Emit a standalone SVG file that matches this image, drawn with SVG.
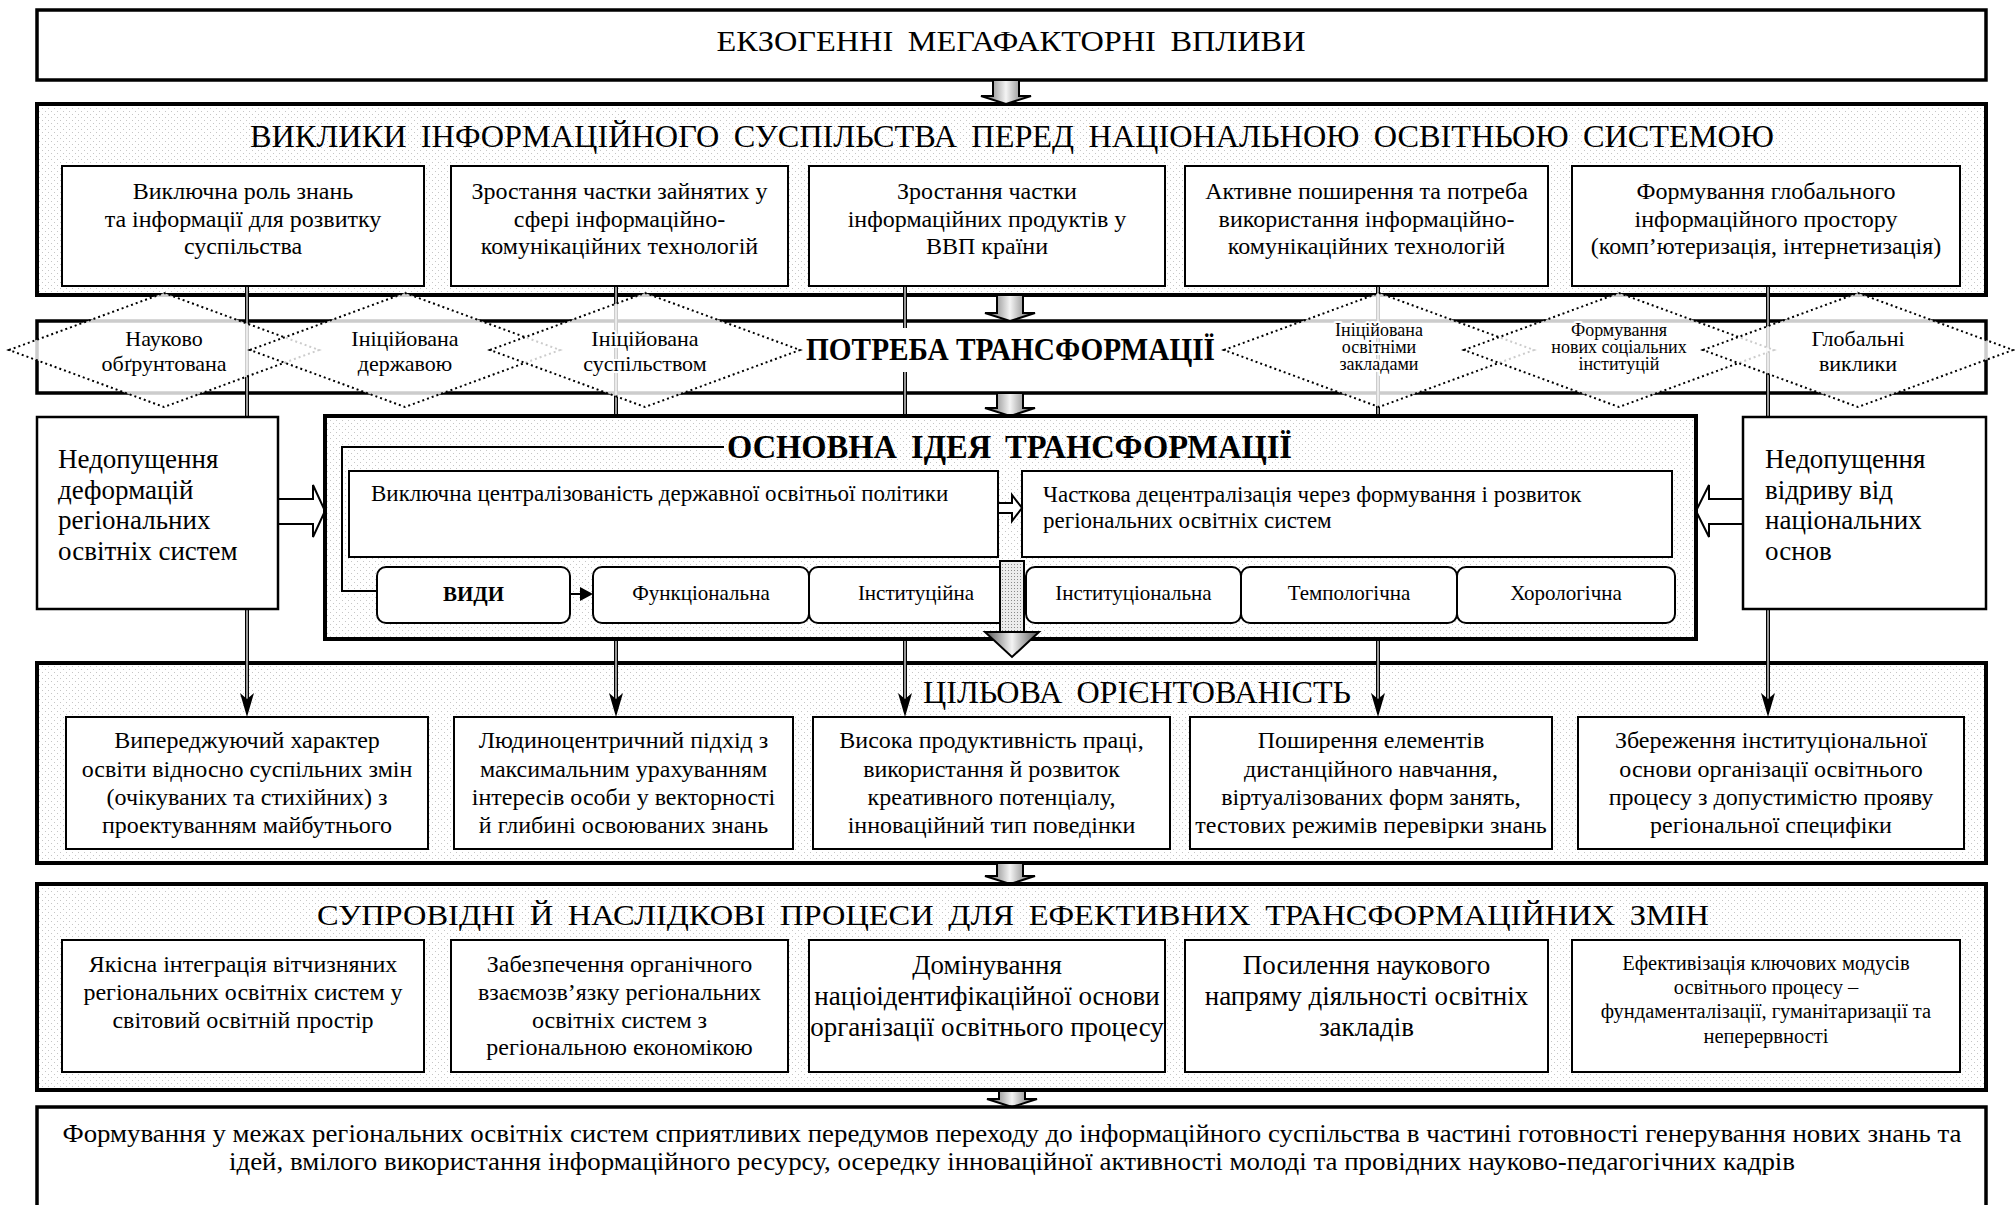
<svg xmlns="http://www.w3.org/2000/svg" width="2015" height="1205" viewBox="0 0 2015 1205">
<defs>
<pattern id="dots" width="6" height="6" patternUnits="userSpaceOnUse"><rect width="6" height="6" fill="#fff"/><rect x="0" y="0" width="1" height="1" fill="#c6c6c6"/><rect x="3" y="3" width="1" height="1" fill="#c6c6c6"/></pattern>
<pattern id="dots2" width="3" height="3" patternUnits="userSpaceOnUse"><rect width="3" height="3" fill="#ececec"/><rect width="1" height="1" fill="#8a8a8a"/></pattern>
<linearGradient id="grey" x1="0" x2="1" y1="0" y2="0"><stop offset="0" stop-color="#555"/><stop offset="0.5" stop-color="#f4f4f4"/><stop offset="1" stop-color="#555"/></linearGradient>
<style>
text{font-family:"Liberation Serif","Times New Roman",serif;fill:#000}
.sec{fill:url(#dots);stroke:#000;stroke-width:4}
.plain{fill:#fff;stroke:#000;stroke-width:3.5}
.box{fill:#fff;stroke:#000;stroke-width:2}
.side{fill:#fff;stroke:#000;stroke-width:2.5}
.rbox{fill:#fff;stroke:#000;stroke-width:2}
.hol{fill:#fff;stroke:#000;stroke-width:2}
.garrow{fill:url(#grey);stroke:#000;stroke-width:2}
.dia{fill:#fff;fill-opacity:0.8;stroke:#000;stroke-width:2;stroke-dasharray:2 3}
.wire{stroke:#000;stroke-width:4;fill:none}
.wirein{stroke:#c8c8c8;stroke-width:1.5;fill:none}
.head{fill:#000}
.c{text-anchor:middle}
.halo{stroke:#fff;stroke-width:4;paint-order:stroke;stroke-linejoin:round}
.t24{font-size:24px}
.t27{font-size:27px}
.t23{font-size:23px}
.t21{font-size:21px}
.t20{font-size:20.5px}
.d22{font-size:22px}
.d18{font-size:18px}
.title{font-size:30px;word-spacing:6px}
.bold{font-weight:bold}
</style>
</defs>
<rect width="2015" height="1205" fill="#fff"/>

<!-- Top box -->
<g id="n-exo">
<rect class="plain" x="37" y="10" width="1949" height="70"/>
<text class="title c" x="1011" y="51" font-size="29" textLength="589" lengthAdjust="spacingAndGlyphs">ЕКЗОГЕННІ МЕГАФАКТОРНІ ВПЛИВИ</text>
</g>

<!-- Challenges section -->
<g id="n-challenges">
<rect class="sec" x="37" y="104" width="1949" height="191"/>
<text class="title c" x="1012" y="147" style="font-size:31px" textLength="1524" lengthAdjust="spacingAndGlyphs">ВИКЛИКИ ІНФОРМАЦІЙНОГО СУСПІЛЬСТВА ПЕРЕД НАЦІОНАЛЬНОЮ ОСВІТНЬОЮ СИСТЕМОЮ</text>
</g>
<g id="n-ch1"><rect class="box" x="62" y="166" width="362" height="120"/>
<text class="t24 c" x="243" y="199">Виключна роль знань</text><text class="t24 c" x="243" y="227">та інформації для розвитку</text><text class="t24 c" x="243" y="254">суспільства</text></g>
<g id="n-ch2"><rect class="box" x="451" y="166" width="337" height="120"/>
<text class="t24 c" x="619.5" y="199">Зростання частки зайнятих у</text><text class="t24 c" x="619.5" y="227">сфері інформаційно-</text><text class="t24 c" x="619.5" y="254">комунікаційних технологій</text></g>
<g id="n-ch3"><rect class="box" x="809" y="166" width="356" height="120"/>
<text class="t24 c" x="987" y="199">Зростання частки</text><text class="t24 c" x="987" y="227">інформаційних продуктів у</text><text class="t24 c" x="987" y="254">ВВП країни</text></g>
<g id="n-ch4"><rect class="box" x="1185" y="166" width="363" height="120"/>
<text class="t24 c" x="1366.5" y="199">Активне поширення та потреба</text><text class="t24 c" x="1366.5" y="227">використання інформаційно-</text><text class="t24 c" x="1366.5" y="254">комунікаційних технологій</text></g>
<g id="n-ch5"><rect class="box" x="1572" y="166" width="388" height="120"/>
<text class="t24 c" x="1766" y="199">Формування глобального</text><text class="t24 c" x="1766" y="227">інформаційного простору</text><text class="t24 c" x="1766" y="254">(комп’ютеризація, інтернетизація)</text></g>

<!-- Need for transformation box -->
<g id="n-need-box">
<rect class="plain" x="37" y="321" width="1949" height="72"/>
</g>

<!-- Target orientation section -->
<g id="n-target">
<rect class="sec" x="37" y="663" width="1949" height="200"/>
<text class="title c" x="1137" y="703" style="font-size:31px" textLength="428" lengthAdjust="spacingAndGlyphs">ЦІЛЬОВА ОРІЄНТОВАНІСТЬ</text>
</g>
<g id="n-t1"><rect class="box" x="66" y="717" width="362" height="132"/>
<text class="t24 c" x="247" y="748">Випереджуючий характер</text><text class="t24 c" x="247" y="777">освіти відносно суспільних змін</text><text class="t24 c" x="247" y="805">(очікуваних та стихійних) з</text><text class="t24 c" x="247" y="833">проектуванням майбутнього</text></g>
<g id="n-t2"><rect class="box" x="454" y="717" width="339" height="132"/>
<text class="t24 c" x="623.5" y="748">Людиноцентричний підхід з</text><text class="t24 c" x="623.5" y="777">максимальним урахуванням</text><text class="t24 c" x="623.5" y="805">інтересів особи у векторності</text><text class="t24 c" x="623.5" y="833">й глибині освоюваних знань</text></g>
<g id="n-t3"><rect class="box" x="813" y="717" width="357" height="132"/>
<text class="t24 c" x="991.5" y="748">Висока продуктивність праці,</text><text class="t24 c" x="991.5" y="777">використання й розвиток</text><text class="t24 c" x="991.5" y="805">креативного потенціалу,</text><text class="t24 c" x="991.5" y="833">інноваційний тип поведінки</text></g>
<g id="n-t4"><rect class="box" x="1190" y="717" width="362" height="132"/>
<text class="t24 c" x="1371" y="748">Поширення елементів</text><text class="t24 c" x="1371" y="777">дистанційного навчання,</text><text class="t24 c" x="1371" y="805">віртуалізованих форм занять,</text><text class="t24 c" x="1371" y="833">тестових режимів перевірки знань</text></g>
<g id="n-t5"><rect class="box" x="1578" y="717" width="386" height="132"/>
<text class="t24 c" x="1771" y="748">Збереження інституціональної</text><text class="t24 c" x="1771" y="777">основи організації освітнього</text><text class="t24 c" x="1771" y="805">процесу з допустимістю прояву</text><text class="t24 c" x="1771" y="833">регіональної специфіки</text></g>

<!-- Connectors -->
<g id="connectors">
<path class="wire" d="M247,286V700 M616,286V700 M905,286V700 M1378,286V700 M1768,286V700"/>
<path class="wirein" d="M247,287V699 M616,287V699 M905,287V699 M1378,287V699 M1768,287V699"/>
<path class="head" d="M247,717L240,693L247,699L254,693Z M616,717L609,693L616,699L623,693Z M905,717L898,693L905,699L912,693Z M1378,717L1371,693L1378,699L1385,693Z M1768,717L1761,693L1768,699L1775,693Z"/>
<polygon class="garrow" points="993,80 1019,80 1019,96 1031,96 1006,104 981,96 993,96"/>
<polygon class="garrow" points="997,295 1023,295 1023,313 1035,313 1010,321 985,313 997,313"/>
<polygon class="garrow" points="997,393 1023,393 1023,408 1035,408 1010,416 985,408 997,408"/>
<polygon class="garrow" points="997,863 1023,863 1023,876 1035,876 1010,884 985,876 997,876"/>
<polygon class="garrow" points="999,1090 1025,1090 1025,1099 1037,1099 1012,1107 987,1099 999,1099"/>
<polygon class="hol" points="278,499 313,499 313,485 325,511 313,537 313,524 278,524"/>
<polygon class="hol" points="1743,499 1709,499 1709,485 1696,511 1709,537 1709,524 1743,524"/>
</g>

<!-- Diamonds -->
<g id="n-d1"><polygon class="dia" points="9,350 164,293 319,350 164,407"/>
<text class="d22 c halo" x="164" y="346">Науково</text><text class="d22 c halo" x="164" y="371">обґрунтована</text></g>
<g id="n-d2"><polygon class="dia" points="250,350 405,293 560,350 405,407"/>
<text class="d22 c halo" x="405" y="346">Ініційована</text><text class="d22 c halo" x="405" y="371">державою</text></g>
<g id="n-d3"><polygon class="dia" points="490,350 645,293 800,350 645,407"/>
<text class="d22 c halo" x="645" y="346">Ініційована</text><text class="d22 c halo" x="645" y="371">суспільством</text></g>
<g id="n-d4"><polygon class="dia" points="1224,350 1379,293 1534,350 1379,407"/>
<text class="d18 c halo" x="1379" y="336">Ініційована</text><text class="d18 c halo" x="1379" y="353">освітніми</text><text class="d18 c halo" x="1379" y="370">закладами</text></g>
<g id="n-d5"><polygon class="dia" points="1464,350 1619,293 1774,350 1619,407"/>
<text class="d18 c halo" x="1619" y="336">Формування</text><text class="d18 c halo" x="1619" y="353">нових соціальних</text><text class="d18 c halo" x="1619" y="370">інституцій</text></g>
<g id="n-d6"><polygon class="dia" points="1703,350 1858,293 2013,350 1858,407"/>
<text class="d22 c halo" x="1858" y="346">Глобальні</text><text class="d22 c halo" x="1858" y="371">виклики</text></g>
<g id="n-need">
<rect x="804" y="328" width="414" height="44" fill="#fff"/>
<text class="bold c" x="1010.5" y="360" font-size="31" textLength="409" lengthAdjust="spacingAndGlyphs">ПОТРЕБА ТРАНСФОРМАЦІЇ</text>
</g>

<!-- Side boxes -->
<g id="n-left"><rect class="side" x="37" y="417" width="241" height="192"/>
<text class="t27" x="58" y="468">Недопущення</text><text class="t27" x="58" y="499">деформацій</text><text class="t27" x="58" y="529">регіональних</text><text class="t27" x="58" y="560">освітніх систем</text></g>
<g id="n-right"><rect class="side" x="1743" y="417" width="243" height="192"/>
<text class="t27" x="1765" y="468">Недопущення</text><text class="t27" x="1765" y="499">відриву від</text><text class="t27" x="1765" y="529">національних</text><text class="t27" x="1765" y="560">основ</text></g>

<!-- Main idea -->
<g id="n-main">
<rect class="sec" x="325" y="416" width="1371" height="223"/>
<polyline points="724,447 342,447 342,591 377,591" fill="none" stroke="#000" stroke-width="2"/>
<text class="bold c" x="1009.5" y="458" font-size="33" style="word-spacing:6px" textLength="565" lengthAdjust="spacingAndGlyphs">ОСНОВНА ІДЕЯ ТРАНСФОРМАЦІЇ</text>
</g>
<g id="n-central"><rect class="box" x="349" y="471" width="649" height="86"/>
<text class="t23" x="371" y="501">Виключна централізованість державної освітньої політики</text></g>
<g id="n-decentral"><rect class="box" x="1022" y="471" width="650" height="86"/>
<text class="t23" x="1043" y="502">Часткова децентралізація через формування і розвиток</text><text class="t23" x="1043" y="528">регіональних освітніх систем</text></g>
<polygon class="hol" points="998,503 1012,503 1012,495 1022,508 1012,521 1012,513 998,513"/>
<g id="n-vydy"><rect class="rbox" x="377" y="567" width="193" height="56" rx="9"/>
<text class="t21 bold c" x="473.5" y="601">ВИДИ</text></g>
<line x1="570" y1="594" x2="582" y2="594" stroke="#000" stroke-width="2"/>
<polygon class="head" points="580,587 593,594 580,601"/>
<g id="n-func"><rect class="rbox" x="593" y="567" width="216" height="56" rx="9"/><text class="t21 c" x="701" y="600">Функціональна</text></g>
<g id="n-inst"><rect class="rbox" x="809" y="567" width="215" height="56" rx="9"/><text class="t21 c" x="916" y="600">Інституційна</text></g>
<g id="n-instl"><rect class="rbox" x="1026" y="567" width="215" height="56" rx="9"/><text class="t21 c" x="1133.5" y="600">Інституціональна</text></g>
<g id="n-temp"><rect class="rbox" x="1241" y="567" width="216" height="56" rx="9"/><text class="t21 c" x="1349" y="600">Темпологічна</text></g>
<g id="n-chor"><rect class="rbox" x="1457" y="567" width="218" height="56" rx="9"/><text class="t21 c" x="1566" y="600">Хорологічна</text></g>
<rect x="1000" y="561" width="24" height="71" fill="url(#dots2)" stroke="#000" stroke-width="2"/>
<polygon class="garrow" points="1000,632 985,632 1012,657 1039,632 1024,632"/>

<!-- Accompanying processes -->
<g id="n-proc">
<rect class="sec" x="37" y="884" width="1949" height="206"/>
<text class="title c" x="1013" y="925" textLength="1392" lengthAdjust="spacingAndGlyphs">СУПРОВІДНІ Й НАСЛІДКОВІ ПРОЦЕСИ ДЛЯ ЕФЕКТИВНИХ ТРАНСФОРМАЦІЙНИХ ЗМІН</text>
</g>
<g id="n-p1"><rect class="box" x="62" y="940" width="362" height="132"/>
<text class="t24 c" x="243" y="972">Якісна інтеграція вітчизняних</text><text class="t24 c" x="243" y="1000">регіональних освітніх систем у</text><text class="t24 c" x="243" y="1028">світовий освітній простір</text></g>
<g id="n-p2"><rect class="box" x="451" y="940" width="337" height="132"/>
<text class="t24 c" x="619.5" y="972">Забезпечення органічного</text><text class="t24 c" x="619.5" y="1000">взаємозв’язку регіональних</text><text class="t24 c" x="619.5" y="1028">освітніх систем з</text><text class="t24 c" x="619.5" y="1055">регіональною економікою</text></g>
<g id="n-p3"><rect class="box" x="809" y="940" width="356" height="132"/>
<text class="t27 c" x="987" y="974">Домінування</text><text class="t27 c" x="987" y="1005">націоідентифікаційної основи</text><text class="t27 c" x="987" y="1036">організації освітнього процесу</text></g>
<g id="n-p4"><rect class="box" x="1185" y="940" width="363" height="132"/>
<text class="t27 c" x="1366.5" y="974">Посилення наукового</text><text class="t27 c" x="1366.5" y="1005">напряму діяльності освітніх</text><text class="t27 c" x="1366.5" y="1036">закладів</text></g>
<g id="n-p5"><rect class="box" x="1572" y="940" width="388" height="132"/>
<text class="t20 c" x="1766" y="970">Ефективізація ключових модусів</text><text class="t20 c" x="1766" y="994">освітнього процесу –</text><text class="t20 c" x="1766" y="1018">фундаменталізації, гуманітаризації та</text><text class="t20 c" x="1766" y="1043">неперервності</text></g>

<!-- Result -->
<g id="n-result">
<rect class="plain" x="37" y="1107" width="1949" height="110"/>
<text class="c" x="1012" y="1142" font-size="25" textLength="1899" lengthAdjust="spacingAndGlyphs">Формування у межах регіональних освітніх систем сприятливих передумов переходу до інформаційного суспільства в частині готовності генерування нових знань та</text>
<text class="c" x="1012" y="1170" font-size="25" textLength="1566" lengthAdjust="spacingAndGlyphs">ідей, вмілого використання інформаційного ресурсу, осередку інноваційної активності молоді та провідних науково-педагогічних кадрів</text>
</g>
</svg>
